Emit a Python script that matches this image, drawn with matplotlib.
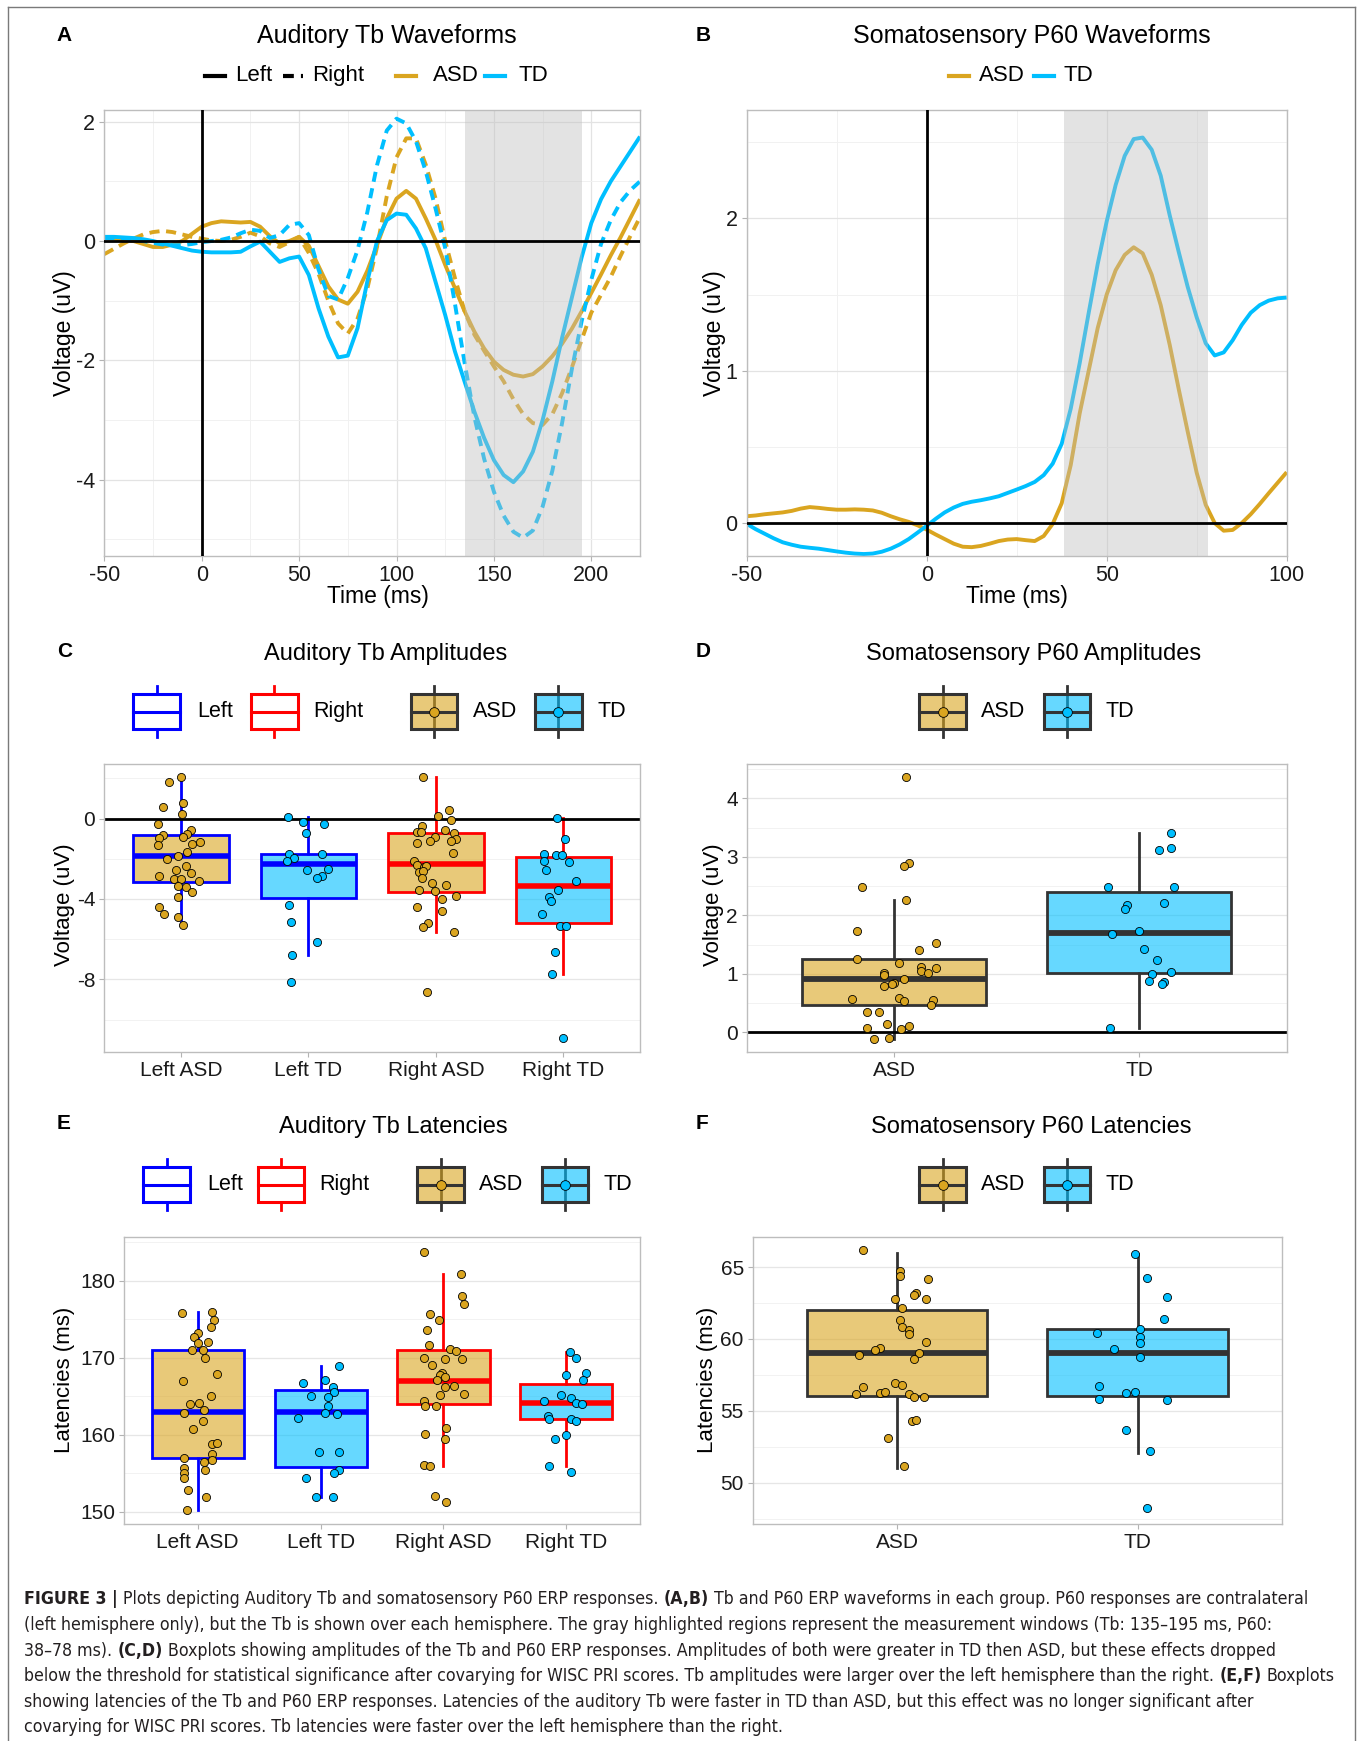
import matplotlib
matplotlib.use("Agg")
import matplotlib.pyplot as plt
from matplotlib.lines import Line2D
from matplotlib.patches import Rectangle
from matplotlib.ticker import MultipleLocator, FixedLocator

# =====================================
# Figure 3: Tb / P60 waveforms, amplitudes and latencies
# =====================================

W, H = 1360, 1741
plt.rcParams["font.family"] = ["Liberation Sans", "DejaVu Sans"]
plt.rcParams["axes.unicode_minus"] = False

ASD_COL = "#DAA520"
TD_COL = "#00BFFF"
LEFT_COL = "#0000FF"
RIGHT_COL = "#FF0000"
BOX_DARK = "#333333"

# ---- 1. waveforms (A) : Auditory Tb, 5 ms steps ----
time_a = list(range(-50, 230, 5))
asd_left_a = [0.05, 0.04, 0.02, 0.0, -0.05, -0.1, -0.1, -0.06, 0.0, 0.12,
              0.24, 0.3, 0.33, 0.32, 0.31, 0.32, 0.24, 0.08, -0.04, 0.0,
              0.07, -0.08, -0.42, -0.76, -0.98, -1.05, -0.85, -0.5, -0.07, 0.38,
              0.71, 0.84, 0.71, 0.38, 0.02, -0.4, -0.79, -1.18, -1.52, -1.8,
              -2.02, -2.16, -2.24, -2.27, -2.23, -2.1, -1.93, -1.72, -1.47, -1.18,
              -0.87, -0.56, -0.24, 0.06, 0.38, 0.7]
asd_right_a = [-0.22, -0.13, -0.04, 0.04, 0.11, 0.15, 0.17, 0.15, 0.11, 0.07,
               0.04, 0.01, 0.0, 0.02, 0.07, 0.14, 0.08, -0.04, -0.1, -0.02,
               0.07, -0.2, -0.55, -1.0, -1.38, -1.55, -1.3, -0.8, -0.1, 0.75,
               1.4, 1.72, 1.72, 1.28, 0.72, 0.0, -0.62, -1.18, -1.57, -1.84,
               -2.1, -2.35, -2.65, -2.9, -3.05, -3.08, -2.9, -2.55, -2.12, -1.66,
               -1.2, -0.9, -0.6, -0.25, 0.08, 0.4]
td_left_a = [0.07, 0.07, 0.06, 0.05, 0.03, 0.0, -0.04, -0.08, -0.12, -0.16,
             -0.18, -0.19, -0.19, -0.19, -0.18, -0.09, -0.01, -0.18, -0.35, -0.29,
             -0.26, -0.57, -1.13, -1.6, -1.95, -1.92, -1.46, -0.68, 0.0, 0.35,
             0.46, 0.44, 0.21, -0.12, -0.68, -1.24, -1.85, -2.36, -2.86, -3.3,
             -3.67, -3.92, -4.04, -3.86, -3.53, -3.0, -2.35, -1.62, -0.95, -0.28,
             0.3, 0.7, 1.0, 1.25, 1.5, 1.75]
td_right_a = [0.05, 0.05, 0.05, 0.03, 0.0, -0.03, -0.06, -0.07, -0.07, -0.05,
              -0.02, 0.0, 0.02, 0.06, 0.13, 0.19, 0.17, 0.05, 0.1, 0.27,
              0.3, 0.1, -0.48, -0.92, -0.98, -0.62, -0.15, 0.48, 1.27, 1.85,
              2.05, 1.97, 1.67, 1.17, 0.55, -0.12, -1.05, -2.05, -2.95, -3.65,
              -4.2, -4.6, -4.87, -4.97, -4.85, -4.45, -3.85, -3.05, -2.15, -1.35,
              -0.65, -0.05, 0.35, 0.65, 0.85, 1.0]
window_a = (135, 195)

# ---- 2. waveforms (B) : Somatosensory P60, 2.5 ms steps ----
time_b = [t / 2 for t in range(-100, 201, 5)]
asd_b = [0.045, 0.05, 0.058, 0.064, 0.07, 0.08, 0.095, 0.105, 0.1, 0.093,
         0.088, 0.088, 0.09, 0.088, 0.083, 0.068, 0.045, 0.025, 0.008, -0.015,
         -0.043, -0.075, -0.105, -0.135, -0.155, -0.158, -0.15, -0.135, -0.118, -0.108,
         -0.105, -0.112, -0.118, -0.085, -0.005, 0.13, 0.38, 0.72, 1.0, 1.28,
         1.5, 1.66, 1.76, 1.81, 1.77, 1.63, 1.43, 1.17, 0.88, 0.6,
         0.33, 0.12, 0.0, -0.05, -0.045, 0.0, 0.058, 0.125, 0.196, 0.265,
         0.334]
td_b = [-0.005, -0.04, -0.07, -0.1, -0.126, -0.142, -0.155, -0.162, -0.168, -0.177,
        -0.186, -0.194, -0.2, -0.203, -0.2, -0.188, -0.168, -0.14, -0.105, -0.062,
        -0.018, 0.028, 0.07, 0.102, 0.126, 0.14, 0.15, 0.162, 0.176, 0.198,
        0.22, 0.243, 0.27, 0.315, 0.39, 0.52, 0.75, 1.05, 1.38, 1.7,
        1.98, 2.22, 2.41, 2.52, 2.53, 2.45, 2.28, 2.02, 1.78, 1.55,
        1.35, 1.18, 1.1, 1.12, 1.2, 1.3, 1.38, 1.43, 1.46, 1.475,
        1.48]
window_b = (38, 78)

# ---- 3. amplitudes (C) : Auditory Tb ----
amp_tb_labels = ["Left ASD", "Left TD", "Right ASD", "Right TD"]
amp_tb_q1 = [-3.14, -3.97, -3.63, -5.18]
amp_tb_med = [-1.86, -2.27, -2.27, -3.34]
amp_tb_q3 = [-0.83, -1.78, -0.7, -1.91]
amp_tb_lo = [-5.28, -6.77, -5.63, -7.75]
amp_tb_hi = [2.07, 0.08, 2.07, 0.05]

amp_left_asd = [2.07, 1.83, 0.6, 0.78, 0.22, -0.25, -0.58, -0.75, -0.8, -0.96,
                -0.93, -1.16, -1.26, -1.33, -1.99, -1.88, -1.68, -2.56, -2.37, -2.72,
                -2.84, -2.99, -3.02, -3.12, -3.35, -3.42, -3.65, -3.9, -4.4, -4.75,
                -4.88, -5.28]
amp_left_asd_dx = [0.0, -0.09, -0.14, 0.02, 0.01, -0.18, 0.08, 0.05, -0.14, -0.17,
                   0.02, 0.15, 0.09, -0.18, -0.11, -0.02, 0.05, -0.04, 0.04, 0.08,
                   -0.17, -0.05, 0.0, 0.14, -0.02, 0.04, 0.09, -0.02, -0.17, -0.13,
                   -0.02, 0.02]
amp_left_td = [0.08, -0.18, -0.27, -0.7, -1.76, -1.94, -2.09, -1.78, -2.56, -2.51,
               -2.85, -2.97, -4.3, -5.13, -6.12, -6.77, -8.12]
amp_left_td_dx = [-0.16, -0.04, 0.12, -0.02, -0.15, -0.11, -0.17, 0.11, -0.01, 0.15,
                  0.11, 0.07, -0.15, -0.14, 0.07, -0.13, -0.14]
amp_right_asd = [2.07, 0.43, 0.13, -0.07, -0.37, -0.66, -0.66, -0.56, -0.7, -0.93,
                 -1.13, -1.0, -1.11, -1.24, -1.71, -2.09, -2.29, -2.39, -2.36, -2.66,
                 -2.59, -2.95, -3.22, -3.32, -3.55, -3.6, -3.85, -4.0, -4.38, -4.58,
                 -5.21, -5.38, -5.63, -8.65]
amp_right_asd_dx = [-0.1, 0.1, 0.02, 0.12, -0.11, -0.15, -0.12, 0.07, 0.14, -0.01,
                    -0.05, 0.16, 0.12, -0.15, 0.13, -0.17, -0.15, -0.09, -0.08, -0.13,
                    -0.1, -0.11, -0.03, 0.08, -0.13, -0.01, 0.16, 0.05, -0.15, 0.05,
                    -0.06, -0.1, 0.14, -0.07]
amp_right_td = [0.05, -1.03, -1.76, -1.81, -1.81, -2.09, -2.14, -2.56, -3.12, -3.54,
                -3.9, -4.1, -4.73, -5.33, -5.33, -6.66, -7.75, -10.94]
amp_right_td_dx = [-0.05, 0.01, -0.15, -0.06, -0.01, -0.15, 0.04, -0.14, 0.1, -0.04,
                   -0.11, -0.1, -0.17, -0.03, 0.02, -0.07, -0.09, 0.0]

# ---- 4. amplitudes (D) : Somatosensory P60 ----
amp_p60_labels = ["ASD", "TD"]
amp_p60_q1 = [0.46, 1.01]
amp_p60_med = [0.91, 1.7]
amp_p60_q3 = [1.25, 2.4]
amp_p60_lo = [-0.11, 0.07]
amp_p60_hi = [2.27, 3.4]

amp_p60_asd = [4.36, 2.9, 2.85, 2.48, 2.27, 1.74, 1.53, 1.4, 1.25, 1.18,
               1.11, 1.1, 1.02, 1.05, 1.02, 0.98, 0.91, 0.85, 0.83, 0.8,
               0.57, 0.59, 0.53, 0.55, 0.47, 0.35, 0.35, 0.15, 0.11, 0.07,
               0.06, -0.09, -0.11]
amp_p60_asd_dx = [0.05, 0.06, 0.04, -0.13, 0.05, -0.15, 0.17, 0.1, -0.15, 0.02,
                  0.11, 0.17, -0.04, 0.11, 0.14, -0.04, 0.04, 0.0, -0.01, -0.04,
                  -0.17, 0.02, 0.04, 0.16, 0.15, -0.11, -0.06, -0.03, 0.06, -0.11,
                  0.03, -0.02, -0.08]
amp_p60_td = [3.4, 3.15, 3.11, 2.48, 2.48, 2.21, 2.17, 2.11, 1.74, 1.68,
              1.42, 1.23, 1.04, 1.0, 0.87, 0.86, 0.82, 0.07]
amp_p60_td_dx = [0.13, 0.13, 0.08, -0.13, 0.14, 0.1, -0.05, -0.06, 0.0, -0.11,
                 0.02, 0.07, 0.13, 0.05, 0.04, 0.1, 0.09, -0.12]

# ---- 5. latencies (E) : Auditory Tb ----
lat_tb_q1 = [157.03, 155.77, 164.0, 162.05]
lat_tb_med = [163.0, 163.0, 167.0, 164.09]
lat_tb_q3 = [171.03, 165.78, 171.03, 166.56]
lat_tb_lo = [150.22, 151.96, 155.9, 155.9]
lat_tb_hi = [175.97, 168.95, 180.87, 170.81]

lat_left_asd = [175.88, 175.97, 174.97, 173.97, 173.28, 172.76, 171.89, 172.11, 171.03, 171.03,
                169.94, 167.91, 167.0, 165.05, 163.96, 164.18, 163.23, 162.79, 161.8, 160.71,
                158.8, 158.98, 157.46, 156.98, 156.42, 156.68, 155.73, 155.08, 155.42, 154.43,
                152.82, 151.96, 150.22]
lat_left_asd_dx = [-0.13, 0.12, 0.13, 0.11, 0.0, -0.03, 0.0, 0.08, -0.05, 0.04,
                   0.06, 0.16, -0.12, 0.11, -0.06, 0.01, 0.05, -0.11, 0.04, -0.04,
                   0.12, 0.16, 0.12, -0.11, 0.05, 0.12, -0.11, -0.11, 0.06, -0.11,
                   -0.08, 0.07, -0.09]
lat_left_td = [168.95, 166.69, 167.13, 166.17, 165.57, 165.0, 164.92, 163.75, 162.88, 162.7,
               162.14, 157.81, 157.81, 155.42, 155.08, 154.34, 151.96, 151.96]
lat_left_td_dx = [0.15, -0.14, 0.04, 0.1, 0.11, -0.08, 0.06, 0.06, 0.04, 0.13,
                  -0.18, -0.01, 0.15, 0.15, 0.11, -0.12, -0.04, 0.1]
lat_right_asd = [183.73, 180.87, 178.05, 176.97, 175.75, 174.89, 173.67, 171.68, 171.11, 170.89,
                 169.99, 169.9, 169.81, 169.08, 167.96, 167.7, 167.44, 167.09, 166.35, 166.22,
                 165.35, 165.14, 164.4, 163.75, 163.75, 160.84, 160.15, 159.41, 156.12, 155.9,
                 152.04, 151.22]
lat_right_asd_dx = [-0.16, 0.14, 0.15, 0.17, -0.11, -0.04, -0.13, -0.12, 0.05, 0.1,
                    -0.16, 0.01, 0.15, -0.09, -0.01, -0.03, 0.01, -0.05, 0.09, 0.01,
                    0.17, -0.03, -0.16, -0.15, -0.06, 0.02, -0.15, 0.01, -0.16, -0.11,
                    -0.07, 0.02]
lat_right_td = [170.81, 169.94, 167.99, 167.73, 167.13, 165.22, 164.79, 164.35, 164.09, 163.96,
                162.44, 162.1, 162.1, 161.84, 159.93, 159.41, 155.9, 155.12]
lat_right_td_dx = [0.03, 0.08, 0.16, 0.0, 0.14, -0.04, 0.04, -0.18, 0.08, 0.13,
                   -0.15, -0.14, 0.04, 0.08, 0.0, -0.09, -0.14, 0.04]

# ---- 6. latencies (F) : Somatosensory P60 ----
lat_p60_q1 = [56.01, 56.01]
lat_p60_med = [59.01, 59.01]
lat_p60_q3 = [62.03, 60.73]
lat_p60_lo = [51.0, 52.04]
lat_p60_hi = [65.98, 65.93]

lat_p60_asd = [66.21, 64.7, 64.4, 64.16, 63.19, 63.07, 62.77, 62.79, 62.17, 61.31,
               60.82, 60.63, 60.33, 59.82, 59.36, 59.2, 59.03, 58.87, 58.61, 56.97,
               56.64, 56.78, 56.22, 56.29, 56.15, 56.15, 55.95, 55.99, 54.3, 54.37,
               53.11, 51.16]
lat_p60_asd_dx = [-0.14, 0.01, 0.01, 0.13, 0.08, 0.07, -0.01, 0.12, 0.02, 0.01,
                  0.02, 0.05, 0.05, 0.12, -0.07, -0.09, 0.09, -0.16, 0.07, -0.01,
                  -0.14, 0.02, -0.07, -0.05, -0.17, 0.05, 0.07, 0.11, 0.06, 0.08,
                  -0.04, 0.03]
lat_p60_td = [65.91, 64.23, 62.89, 61.4, 60.73, 60.4, 60.17, 59.71, 59.33, 58.78,
              56.76, 56.27, 56.34, 55.83, 55.78, 53.65, 52.21, 48.24]
lat_p60_td_dx = [-0.01, 0.04, 0.12, 0.11, 0.01, -0.17, 0.01, 0.01, -0.1, 0.01,
                 -0.16, -0.05, -0.01, -0.16, 0.12, -0.05, 0.05, 0.04]

caption_lines = [
    [("FIGURE 3 |", True), ("Plots depicting Auditory Tb and somatosensory P60 ERP responses.", False),
     ("(A,B)", True), ("Tb and P60 ERP waveforms in each group. P60 responses are contralateral", False)],
    [("(left hemisphere only), but the Tb is shown over each hemisphere. The gray highlighted regions "
      "represent the measurement windows (Tb: 135\u2013195 ms, P60:", False)],
    [("38\u201378 ms).", False), ("(C,D)", True),
     ("Boxplots showing amplitudes of the Tb and P60 ERP responses. Amplitudes of both were greater "
      "in TD then ASD, but these effects dropped", False)],
    [("below the threshold for statistical significance after covarying for WISC PRI scores. Tb "
      "amplitudes were larger over the left hemisphere than the right.", False),
     ("(E,F)", True), ("Boxplots", False)],
    [("showing latencies of the Tb and P60 ERP responses. Latencies of the auditory Tb were faster "
      "in TD than ASD, but this effect was no longer significant after", False)],
    [("covarying for WISC PRI scores. Tb latencies were faster over the left hemisphere than the right.", False)],
]


# figure-pixel helpers (origin top-left)
def fx(x):
    return x / W


def fy(y):
    return 1 - y / H


def add_axes(left, top, right, bottom):
    return fig.add_axes([fx(left), fy(bottom), (right - left) / W, (bottom - top) / H])


def style(ax, size):
    for s in ax.spines.values():
        s.set_color("#BDBDBD")
        s.set_linewidth(1.0)
    ax.tick_params(which="major", length=3.5, width=0.8, color="#B3B3B3",
                   labelsize=size, labelcolor="#1A1A1A", pad=3)
    ax.tick_params(which="minor", length=0)
    ax.set_axisbelow(True)


fig = plt.figure(figsize=(W / 100, H / 100), dpi=100)
fig.patch.set_facecolor("white")

# outer frame
fig.add_artist(Line2D([fx(7.5), fx(7.5)], [fy(7), 0], transform=fig.transFigure, color="#7A7A7A", lw=1))
fig.add_artist(Line2D([fx(7.5), fx(1354.5)], [fy(7), fy(7)], transform=fig.transFigure, color="#7A7A7A", lw=1))
fig.add_artist(Line2D([fx(1354.5), fx(1354.5)], [fy(7), 0], transform=fig.transFigure, color="#7A7A7A", lw=1))


def wave_axes(ax, times, series, styles, window, xlim, ylim, xmaj, xmin, ymaj, ymin):
    style(ax, 15.5)
    ax.xaxis.set_major_locator(MultipleLocator(xmaj))
    ax.xaxis.set_minor_locator(MultipleLocator(xmin))
    ax.yaxis.set_major_locator(MultipleLocator(ymaj))
    ax.yaxis.set_minor_locator(MultipleLocator(ymin))
    ax.grid(True, which="major", color="#E3E3E3", lw=0.9)
    ax.grid(True, which="minor", color="#F1F1F1", lw=0.7)
    for vals, (col, ls) in zip(series, styles):
        ax.plot(times, vals, color=col, lw=2.8, ls=ls, zorder=2, solid_capstyle="butt",
                solid_joinstyle="round")
    ax.axvspan(window[0], window[1], color="#BEBEBE", alpha=0.42, lw=0, zorder=3)
    ax.axhline(0, color="black", lw=2.0, zorder=4)
    ax.axvline(0, color="black", lw=2.0, zorder=4)
    ax.set_xlim(*xlim)
    ax.set_ylim(*ylim)


DASH = (0, (2.6, 1.7))

# ---- panel A ----
ax_a = add_axes(104.3, 109.7, 640, 556.2)
wave_axes(ax_a, time_a, [asd_left_a, asd_right_a, td_left_a, td_right_a],
          [(ASD_COL, "-"), (ASD_COL, DASH), (TD_COL, "-"), (TD_COL, DASH)],
          window_a, (-50, 225), (-5.28, 2.2), 50, 25, 2, 1)

# ---- panel B ----
ax_b = add_axes(746.7, 109.5, 1286.7, 555.7)
wave_axes(ax_b, time_b, [asd_b, td_b], [(ASD_COL, "-"), (TD_COL, "-")],
          window_b, (-50, 100), (-0.214, 2.714), 50, 25, 1, 0.5)


def box_axes(ax, labels, q1, med, q3, lo, hi, edges, fills, lw, med_lw,
             pts, pt_dx, pt_cols, ylim, ymaj, ymin):
    style(ax, 15)
    n = len(labels)
    pos = list(range(1, n + 1))
    stats = [dict(q1=a, med=m, q3=b, whislo=l, whishi=h, fliers=[])
             for a, m, b, l, h in zip(q1, med, q3, lo, hi)]
    bp = ax.bxp(stats, positions=pos, widths=0.75, patch_artist=True,
                showcaps=False, showfliers=False)
    for i in range(n):
        bp["boxes"][i].set(facecolor=fills[i], edgecolor=edges[i], lw=lw, zorder=2)
        bp["medians"][i].set(color=edges[i], lw=med_lw, solid_capstyle="butt", zorder=2.5)
        for w in bp["whiskers"][2 * i:2 * i + 2]:
            w.set(color=edges[i], lw=lw, zorder=1.5)
    for i in range(n):
        ax.scatter([pos[i] + d for d in pt_dx[i]], pts[i], s=34, color=pt_cols[i],
                   edgecolors="black", linewidths=0.6, zorder=3)
    ax.set_xticks(pos)
    ax.set_xticklabels(labels)
    ax.set_xlim(0.4, n + 0.6)
    ax.set_ylim(*ylim)
    ax.yaxis.set_major_locator(MultipleLocator(ymaj))
    ax.yaxis.set_minor_locator(FixedLocator(ymin))
    ax.grid(True, axis="y", which="major", color="#E6E6E6", lw=0.9)
    ax.grid(True, axis="y", which="minor", color="#F2F2F2", lw=0.7)
    ax.grid(False, axis="x")


ASD_FILL = (218 / 255, 165 / 255, 32 / 255, 0.6)
TD_FILL = (0, 191 / 255, 1, 0.6)

# ---- panel C ----
ax_c = add_axes(104.3, 764.3, 640, 1051.7)
box_axes(ax_c, amp_tb_labels, amp_tb_q1, amp_tb_med, amp_tb_q3, amp_tb_lo, amp_tb_hi,
         [LEFT_COL, LEFT_COL, RIGHT_COL, RIGHT_COL], [ASD_FILL, TD_FILL, ASD_FILL, TD_FILL], 2.0, 4.0,
         [amp_left_asd, amp_left_td, amp_right_asd, amp_right_td],
         [amp_left_asd_dx, amp_left_td_dx, amp_right_asd_dx, amp_right_td_dx],
         [ASD_COL, TD_COL, ASD_COL, TD_COL], (-11.6, 2.7), 4, [-10, -6, -2, 2])
ax_c.axhline(0, color="black", lw=2.0, zorder=1.8)

# ---- panel D ----
ax_d = add_axes(746.7, 764.3, 1286.7, 1051.7)
box_axes(ax_d, amp_p60_labels, amp_p60_q1, amp_p60_med, amp_p60_q3, amp_p60_lo, amp_p60_hi,
         [BOX_DARK, BOX_DARK], [ASD_FILL, TD_FILL], 2.0, 4.2,
         [amp_p60_asd, amp_p60_td], [amp_p60_asd_dx, amp_p60_td_dx],
         [ASD_COL, TD_COL], (-0.33, 4.58), 1, [0.5, 1.5, 2.5, 3.5, 4.5])
ax_d.axhline(0, color="black", lw=2.0, zorder=1.8)

# ---- panel E ----
ax_e = add_axes(124, 1237, 640, 1524.3)
box_axes(ax_e, amp_tb_labels, lat_tb_q1, lat_tb_med, lat_tb_q3, lat_tb_lo, lat_tb_hi,
         [LEFT_COL, LEFT_COL, RIGHT_COL, RIGHT_COL], [ASD_FILL, TD_FILL, ASD_FILL, TD_FILL], 2.0, 4.0,
         [lat_left_asd, lat_left_td, lat_right_asd, lat_right_td],
         [lat_left_asd_dx, lat_left_td_dx, lat_right_asd_dx, lat_right_td_dx],
         [ASD_COL, TD_COL, ASD_COL, TD_COL], (148.35, 185.7), 10, [155, 165, 175, 185])

# ---- panel F ----
ax_f = add_axes(752.8, 1237, 1282, 1524.3)
box_axes(ax_f, amp_p60_labels, lat_p60_q1, lat_p60_med, lat_p60_q3, lat_p60_lo, lat_p60_hi,
         [BOX_DARK, BOX_DARK], [ASD_FILL, TD_FILL], 2.0, 4.2,
         [lat_p60_asd, lat_p60_td], [lat_p60_asd_dx, lat_p60_td_dx],
         [ASD_COL, TD_COL], (47.1, 67.1), 5, [47.5, 52.5, 57.5, 62.5])


# ---- titles, panel letters, axis titles ----
def ftext(x, y, s, size, **kw):
    fig.text(fx(x), fy(y), s, fontsize=size, ha=kw.pop("ha", "center"), va=kw.pop("va", "center"), **kw)


for lab, x, y in [("A", 64.4, 35.5), ("B", 702.8, 35.5), ("C", 64.4, 651.7),
                  ("D", 702.8, 651.7), ("E", 63.3, 1123.5), ("F", 701.7, 1123.5)]:
    ftext(x, y, lab, 15, fontweight="bold")

ftext(386.5, 35.5, "Auditory Tb Waveforms", 18)
ftext(1032, 35.5, "Somatosensory P60 Waveforms", 18)
ftext(385.8, 654, "Auditory Tb Amplitudes", 17)
ftext(1033.6, 654, "Somatosensory P60 Amplitudes", 17)
ftext(393, 1127, "Auditory Tb Latencies", 17)
ftext(1031.4, 1127, "Somatosensory P60 Latencies", 17)

ftext(377.5, 596.5, "Time (ms)", 16.5)
ftext(1017, 596.5, "Time (ms)", 16.5)
ftext(64.4, 333, "Voltage (uV)", 16.5, rotation=90)
ftext(714, 333, "Voltage (uV)", 16.5, rotation=90)
ftext(64.4, 905, "Voltage (uV)", 16, rotation=90)
ftext(714, 905, "Voltage (uV)", 16, rotation=90)
ftext(64.4, 1380, "Latencies (ms)", 16, rotation=90)
ftext(707, 1380, "Latencies (ms)", 16, rotation=90)


# ---- legends (drawn by hand, ggplot style) ----
def line_key(x0, y, col, ls="-"):
    fig.add_artist(Line2D([fx(x0), fx(x0 + 20)], [fy(y), fy(y)], transform=fig.transFigure,
                          color=col, lw=3.0, ls=ls))


def box_key(x0, y, edge, fill, dot=None):
    w, h, wh = 46.6, 34.4, 25.5
    xc = x0 + w / 2
    fig.add_artist(Line2D([fx(xc), fx(xc)], [fy(y - wh), fy(y + wh)], transform=fig.transFigure,
                          color=edge, lw=2.0, zorder=1))
    fig.add_artist(Rectangle((fx(x0), fy(y + h / 2)), w / W, h / H, transform=fig.transFigure,
                             facecolor=fill, edgecolor=edge, lw=2.2, zorder=2))
    fig.add_artist(Line2D([fx(x0), fx(x0 + w)], [fy(y), fy(y)], transform=fig.transFigure,
                          color=edge, lw=2.2, zorder=3))
    if dot is not None:
        fig.add_artist(Line2D([fx(xc)], [fy(y)], transform=fig.transFigure, marker="o", ms=7,
                              mfc=dot, mec="black", mew=0.6, ls="none", zorder=4))


line_key(205.4, 75.5, "black")
ftext(235.4, 75.5, "Left", 16, ha="left")
line_key(283.1, 75.5, "black", DASH)
ftext(312, 75.5, "Right", 16, ha="left")
line_key(396.3, 75.5, ASD_COL)
ftext(433, 75.5, "ASD", 16, ha="left")
line_key(485.2, 75.5, TD_COL)
ftext(518.5, 75.5, "TD", 16, ha="left")

line_key(949.2, 75.5, ASD_COL)
ftext(979.2, 75.5, "ASD", 16, ha="left")
line_key(1033.6, 75.5, TD_COL)
ftext(1063.6, 75.5, "TD", 16, ha="left")

for yk, xs in [(711.6, (133.2, 250.9, 410.8, 535.1)), (1184.6, (143.2, 257.6, 417.4, 541.8))]:
    box_key(xs[0], yk, LEFT_COL, "white")
    ftext(xs[0] + 64.4, yk, "Left", 15.5, ha="left")
    box_key(xs[1], yk, RIGHT_COL, "white")
    ftext(xs[1] + 62, yk, "Right", 15.5, ha="left")
    box_key(xs[2], yk, BOX_DARK, ASD_FILL, ASD_COL)
    ftext(xs[2] + 62, yk, "ASD", 15.5, ha="left")
    box_key(xs[3], yk, BOX_DARK, TD_FILL, TD_COL)
    ftext(xs[3] + 62, yk, "TD", 15.5, ha="left")

for yk in (711.6, 1184.6):
    box_key(919.2, yk, BOX_DARK, ASD_FILL, ASD_COL)
    ftext(981.4, yk, "ASD", 15.5, ha="left")
    box_key(1043.6, yk, BOX_DARK, TD_FILL, TD_COL)
    ftext(1105.8, yk, "TD", 15.5, ha="left")

# ---- caption: segments laid out one after another ----
CAP_FONT = ["DejaVu Sans", "Liberation Sans"]
CAP_STRETCH = "condensed"
renderer = fig.canvas.get_renderer()


def text_width(s, size, bold):
    t = fig.text(0, 0, s, fontsize=size, family=CAP_FONT, fontstretch=CAP_STRETCH,
                 fontweight="bold" if bold else "normal")
    w = t.get_window_extent(renderer).width
    t.remove()
    return w


# the widest caption line is fitted to the text block width
base = 13.0
space = text_width("a a", base, False) - text_width("aa", base, False)
widest = max(sum(text_width(s, base, b) for s, b in segs) + space * (len(segs) - 1)
             for segs in caption_lines)
cap_size = base * 1311 / widest
space = space * cap_size / base

cap_y = [1598.7, 1625.3, 1650.9, 1676.4, 1701.9, 1727.5]
for y, segs in zip(cap_y, caption_lines):
    x = 24.4
    for s, b in segs:
        t = fig.text(fx(x), fy(y), s, fontsize=cap_size, family=CAP_FONT, fontstretch=CAP_STRETCH,
                     color="#231F20", fontweight="bold" if b else "normal", ha="left", va="center")
        x += t.get_window_extent(renderer).width + space

fig.savefig("out.png", dpi=100, facecolor="white")
